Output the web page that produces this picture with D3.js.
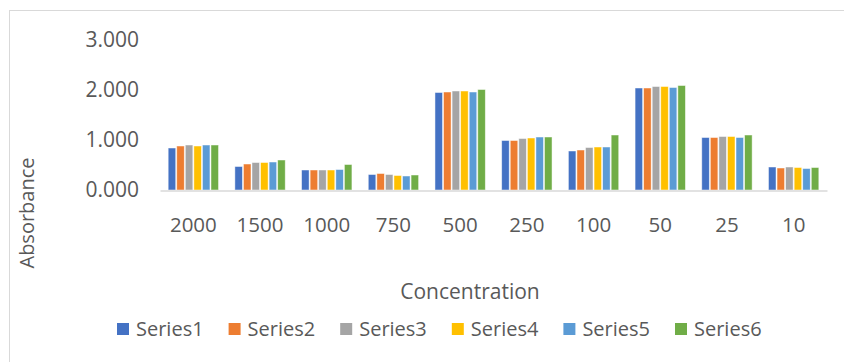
<!DOCTYPE html>
<html><head><meta charset="utf-8">
<script src="https://cdn.jsdelivr.net/npm/d3@7"></script>
<style>body{margin:0;background:#fff}svg{display:block}</style>
</head><body>
<svg id="c" width="844" height="362"></svg>
<script>
const categories = ["2000","1500","1000","750","500","250","100","50","25","10"];
const seriesNames = ["Series1","Series2","Series3","Series4","Series5","Series6"];
const series1 = [0.84,0.47,0.40,0.31,1.95,0.99,0.78,2.04,1.05,0.46];
const series2 = [0.88,0.52,0.40,0.33,1.96,0.99,0.80,2.04,1.05,0.44];
const series3 = [0.90,0.55,0.40,0.31,1.98,1.03,0.85,2.07,1.07,0.46];
const series4 = [0.88,0.55,0.40,0.29,1.98,1.04,0.86,2.07,1.07,0.45];
const series5 = [0.90,0.56,0.41,0.28,1.96,1.06,0.86,2.05,1.05,0.43];
const series6 = [0.90,0.60,0.51,0.30,2.01,1.06,1.10,2.09,1.10,0.45];
const yTicks = [0,1,2,3];
const colors = ["#4472C4","#ED7D31","#A5A5A5","#FFC000","#5B9BD5","#70AD47"];

const allSeries = [series1,series2,series3,series4,series5,series6];
const svg = d3.select("#c");
const font = "'Open Sans', sans-serif";
const txt = "#595959";

svg.append("rect").attr("x",9.5).attr("y",10.5).attr("width",900).attr("height",400)
  .attr("fill","none").attr("stroke","#D9D9D9").attr("stroke-width",1);

const x = d3.scaleBand().domain(categories).range([160,827]).paddingInner(0.23).paddingOuter(0.115);
const xs = d3.scaleBand().domain(d3.range(6)).range([0,x.bandwidth()]);
const y = d3.scaleLinear().domain([0,3]).range([190,40]);

const g = svg.append("g");
categories.forEach((c,i)=>{
  allSeries.forEach((s,j)=>{
    g.append("rect")
      .attr("x",x(c)+xs(j)+0.5).attr("width",xs.bandwidth()-1)
      .attr("y",y(s[i])).attr("height",y(0)-y(s[i]))
      .attr("fill",colors[j]).attr("stroke","#fff").attr("stroke-opacity",0.6).attr("stroke-width",0.8);
  });
});

const xa = svg.append("g").attr("transform",`translate(0,${y(0)+0.5})`)
  .call(d3.axisBottom(x).tickSize(0).tickPadding(27));
xa.select(".domain").attr("stroke","#D9D9D9").attr("stroke-width",1.5);
xa.selectAll("text").attr("font-family",font).attr("font-size",20.5).attr("fill",txt);

const ya = svg.append("g").attr("transform","translate(139,0)")
  .call(d3.axisLeft(y).tickValues(yTicks).tickFormat(d3.format(".3f")).tickSize(0).tickPadding(0));
ya.select(".domain").remove();
ya.selectAll("text").attr("font-family",font).attr("font-size",21).attr("fill",txt);

svg.append("text").attr("x",470).attr("y",292).attr("dy","0.35em").attr("text-anchor","middle")
  .attr("font-family",font).attr("font-size",21).attr("fill",txt).text("Concentration");
svg.append("text").attr("transform","translate(27,213) rotate(-90)").attr("dy","0.35em").attr("text-anchor","middle")
  .attr("font-family",font).attr("font-size",20).attr("fill",txt).text("Absorbance");

const lg = svg.append("g");
seriesNames.forEach((n,j)=>{
  const lx = 117 + j*111.6;
  lg.append("rect").attr("x",lx).attr("y",323).attr("width",12).attr("height",12).attr("fill",colors[j]);
  lg.append("text").attr("x",lx+19).attr("y",329).attr("dy","0.35em")
    .attr("font-family",font).attr("font-size",20).attr("fill",txt).text(n);
});
</script>
</body></html>
